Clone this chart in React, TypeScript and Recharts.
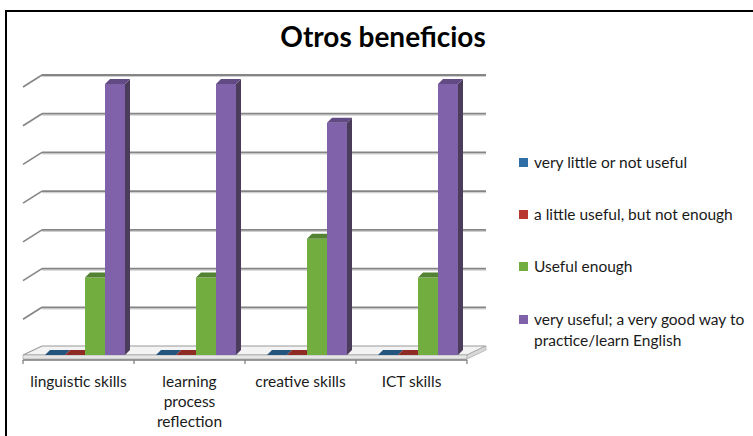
import React from 'react';
import { BarChart, Bar, XAxis, YAxis, CartesianGrid, Legend } from 'recharts';

const categories = ['linguistic skills', 'learning process reflection', 'creative skills', 'ICT skills'];
const tickLabelLines = [['linguistic skills'], ['learning', 'process', 'reflection'], ['creative skills'], ['ICT skills']];
const veryLittle = [0, 0, 0, 0];
const littleUseful = [0, 0, 0, 0];
const usefulEnough = [2, 2, 3, 2];
const veryUseful = [7, 7, 6, 7];
const seriesNames = [
  'very little or not useful',
  'a little useful, but not enough',
  'Useful enough',
  'very useful; a very good way to practice/learn English',
];
const yTicks = [0, 1, 2, 3, 4, 5, 6, 7];

const data = categories.map((name, i) => ({
  name,
  veryLittle: veryLittle[i],
  littleUseful: littleUseful[i],
  usefulEnough: usefulEnough[i],
  veryUseful: veryUseful[i],
}));

const COLORS = {
  veryLittle: { front: '#2f6fa6', top: '#24557f', side: '#1f4466' },
  littleUseful: { front: '#b8382f', top: '#8e2b24', side: '#6e211c' },
  usefulEnough: { front: '#72ad3f', top: '#538232', side: '#41662a' },
  veryUseful: { front: '#8062ab', top: '#624b85', side: '#4b3c5c' },
};

const FONT = 'Lato, "Open Sans", sans-serif';
const PLOT_BOTTOM = 355;
const WALL_DX = 19;
const WALL_DY = 9;
const BAR_SHIFT = 6;
const BAR_DX = 5;
const BAR_DY = 5;

function Bar3D(props: any) {
  const { x, y, width, height, colors } = props;
  if (x == null || y == null) return null;
  const fx = x + BAR_SHIFT;
  const w = width;
  const h = Math.max(0, height);
  const top = `${fx},${y} ${fx + BAR_DX},${y - BAR_DY} ${fx + w + BAR_DX},${y - BAR_DY} ${fx + w},${y}`;
  const side = `${fx + w},${y} ${fx + w + BAR_DX},${y - BAR_DY} ${fx + w + BAR_DX},${y + h - BAR_DY} ${fx + w},${y + h}`;
  return (
    <g>
      <polygon points={side} fill={colors.side} />
      <rect x={fx} y={y} width={w} height={h} fill={colors.front} />
      <polygon points={top} fill={colors.top} />
    </g>
  );
}

function GridLine(props: any) {
  const { x1, y1, x2 } = props;
  const isFloor = Math.abs(y1 - PLOT_BOTTOM) < 1;
  const bx1 = x1 + WALL_DX;
  const bx2 = x2 + WALL_DX;
  const by = y1 - WALL_DY;
  if (isFloor) {
    const n = categories.length;
    const step = (x2 - x1) / n;
    const ticks = [];
    for (let i = 0; i <= n; i++) {
      const tx = x1 + step * i;
      ticks.push(<line key={i} x1={tx} y1={y1 + 5} x2={tx} y2={y1 + 9} stroke="#7a7a7a" strokeWidth={1.2} />);
    }
    return (
      <g>
        <polygon
          points={`${x1},${y1} ${x2},${y1} ${bx2},${by} ${bx1},${by}`}
          fill="#f3f3f3"
          stroke="#9a9a9a"
          strokeWidth={1.2}
        />
        <polygon
          points={`${x1},${y1} ${x2},${y1} ${x2},${y1 + 4} ${x1},${y1 + 4}`}
          fill="#e6e6e6"
          stroke="#b0b0b0"
          strokeWidth={0.8}
        />
        <polygon
          points={`${x2},${y1} ${bx2},${by} ${bx2},${by + 4} ${x2},${y1 + 4}`}
          fill="#d8d8d8"
          stroke="#b0b0b0"
          strokeWidth={0.8}
        />
        <line x1={x1} y1={y1 + 5} x2={x2} y2={y1 + 5} stroke="#7a7a7a" strokeWidth={1.3} />
        {ticks}
      </g>
    );
  }
  return (
    <g>
      <line x1={bx1} y1={by + 1.5} x2={bx2} y2={by + 1.5} stroke="#d0d0d0" strokeWidth={1.2} />
      <line x1={bx1} y1={by} x2={bx2} y2={by} stroke="#858585" strokeWidth={1.8} />
      <line x1={x1} y1={y1 + 3} x2={bx1} y2={by} stroke="#858585" strokeWidth={1.6} />
    </g>
  );
}

function CategoryTick(props: any) {
  const { x, payload } = props;
  const lines = tickLabelLines[payload.index] || [payload.value];
  return (
    <g>
      {lines.map((line: string, i: number) => (
        <text
          key={i}
          x={x}
          y={PLOT_BOTTOM + 32 + i * 20}
          textAnchor="middle"
          fontSize={15.5}
          fill="#1a1a1a"
          fontFamily={FONT}
        >
          {line}
        </text>
      ))}
    </g>
  );
}

function LegendContent(props: any) {
  const payload = [...(props.payload || [])].sort(
    (a: any, b: any) => seriesNames.indexOf(a.value) - seriesNames.indexOf(b.value)
  );
  return (
    <div style={{ fontFamily: FONT, fontSize: 15.5, color: '#1a1a1a', lineHeight: '21px', textAlign: 'left' }}>
      {payload.map((entry: any, i: number) => (
        <div key={i} style={{ display: 'flex', alignItems: 'flex-start', marginBottom: i === 2 ? 32 : 31 }}>
          <div
            style={{
              width: 9,
              height: 9,
              background: entry.color,
              marginTop: 6,
              marginRight: 6,
              flexShrink: 0,
            }}
          />
          <div style={{ width: 222, whiteSpace: 'normal' }}>{entry.value}</div>
        </div>
      ))}
    </div>
  );
}

export default function App() {
  const keys = ['veryLittle', 'littleUseful', 'usefulEnough', 'veryUseful'] as const;
  return (
    <div style={{ position: 'absolute', left: 0, top: 0, width: 753, height: 436, background: '#fff', overflow: 'hidden' }}>
      <div
        style={{
          position: 'absolute',
          left: 5,
          top: 10,
          width: 760,
          height: 440,
          borderTop: '2px solid #000',
          borderLeft: '2px solid #000',
        }}
      />
      <div
        style={{
          position: 'absolute',
          left: 0,
          width: 766,
          top: 19,
          textAlign: 'center',
          fontFamily: FONT,
          fontWeight: 700,
          fontSize: 28,
          color: '#000',
        }}
      >
        Otros beneficios
      </div>
      <div style={{ position: 'absolute', left: 0, top: 0 }}>
        <BarChart
          width={753}
          height={436}
          data={data}
          margin={{ top: 84, right: 286, bottom: 51, left: 23 }}
          barGap={0}
          barSize={20}
        >
          <CartesianGrid horizontal={(p: any) => <GridLine {...p} />} vertical={false} />
          <XAxis
            dataKey="name"
            axisLine={false}
            tickLine={false}
            interval={0}
            height={30}
            tick={(p: any) => <CategoryTick {...p} />}
          />
          <YAxis hide domain={[0, 7]} ticks={yTicks} width={0} />
          <Legend
            layout="vertical"
            align="center"
            verticalAlign="middle"
            content={(p: any) => <LegendContent {...p} />}
            wrapperStyle={{ left: 519, top: 152, right: 'auto', bottom: 'auto', width: 240 }}
          />
          {keys.map((k, i) => (
            <Bar
              key={k}
              dataKey={k}
              name={seriesNames[i]}
              fill={COLORS[k].front}
              isAnimationActive={false}
              shape={(p: any) => <Bar3D {...p} colors={COLORS[k]} />}
            />
          ))}
        </BarChart>
      </div>
    </div>
  );
}
